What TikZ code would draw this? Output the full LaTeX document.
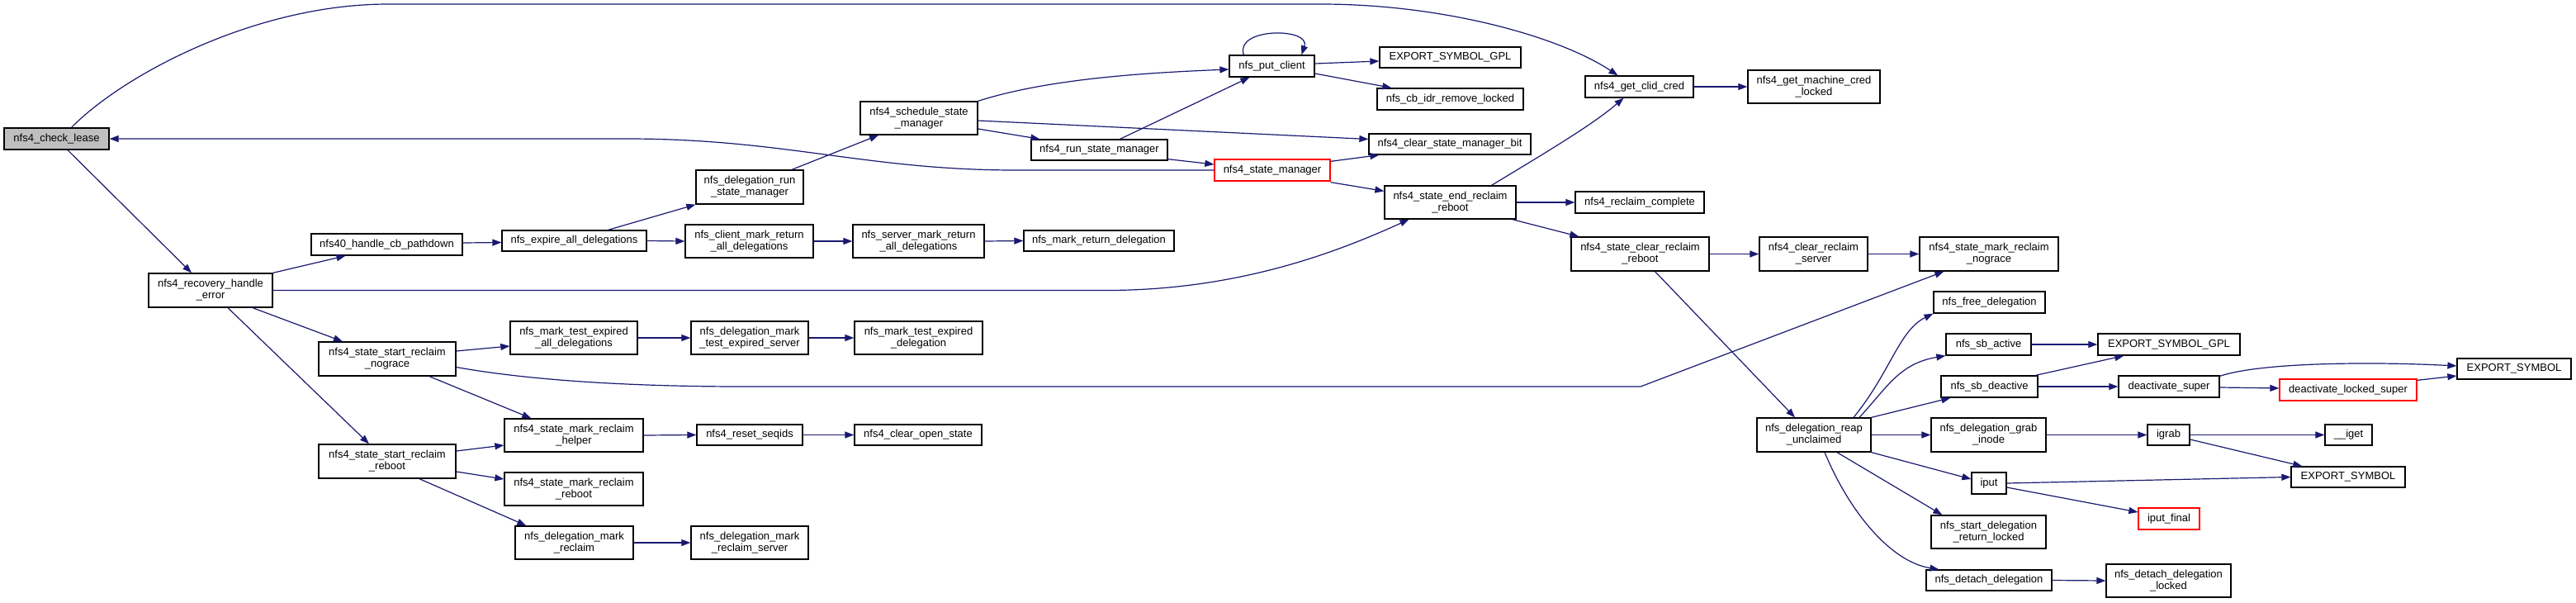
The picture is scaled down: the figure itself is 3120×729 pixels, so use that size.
\documentclass[tikz,border=0pt]{standalone}
\usepackage{fontspec}
\setmainfont{Liberation Sans}
\usetikzlibrary{arrows.meta,calc}
\definecolor{edgec}{HTML}{191970}
\definecolor{grayfill}{HTML}{BFBFBF}
\tikzset{
  fnbox/.style={draw=black,fill=white,line width=1.3pt,inner sep=0pt,align=center,
    font=\fontsize{13}{14}\selectfont},
  rootbox/.style={fill=grayfill},
  redbox/.style={draw=red},
  conn/.style={draw=edgec,line width=1.2pt,-{Triangle[length=11pt,width=8pt]}}
}
\newcommand\fn[7][]{\node[fnbox,#1,minimum width={#5-#3},minimum height={#6-#4}] (#2) at ({(#3+#5)/2},{(#4+#6)/2}) {#7};}
\begin{document}
\begin{tikzpicture}[x=1pt,y=-1pt]
\useasboundingbox[fill=white] (0,0) rectangle (3120,729);
% nodes
\fn[rootbox]{cl}{5}{155}{132}{181}{nfs4\_check\_lease}
\fn{rh}{180}{331}{330}{372}{nfs4\_recovery\_handle\\\_error}
\fn{cb}{377}{283}{560}{309}{nfs40\_handle\_cb\_pathdown}
\fn{ex}{608}{279}{783}{304}{nfs\_expire\_all\_delegations}
\fn{drs}{843}{206}{973}{247}{nfs\_delegation\_run\\\_state\_manager}
\fn{cmr}{830}{272}{985}{312}{nfs\_client\_mark\_return\\\_all\_delegations}
\fn{smr}{1033}{272}{1192}{312}{nfs\_server\_mark\_return\\\_all\_delegations}
\fn{mrd}{1240}{279}{1422}{304}{nfs\_mark\_return\_delegation}
\fn{ssm}{1042}{123}{1184}{163}{nfs4\_schedule\_state\\\_manager}
\fn{rsm}{1249}{169}{1414}{194}{nfs4\_run\_state\_manager}
\fn{pc}{1489}{67}{1592}{93}{nfs\_put\_client}
\fn[redbox]{sm}{1471}{193}{1611}{219}{nfs4\_state\_manager}
\fn{gplA}{1671}{57}{1842}{82}{EXPORT\_SYMBOL\_GPL}
\fn{cbidr}{1668}{107}{1845}{133}{nfs\_cb\_idr\_remove\_locked}
\fn{csmb}{1658}{162}{1854}{187}{nfs4\_clear\_state\_manager\_bit}
\fn{serr}{1677}{225}{1836}{265}{nfs4\_state\_end\_reclaim\\\_reboot}
\fn{gcc}{1920}{92}{2051}{118}{nfs4\_get\_clid\_cred}
\fn{gmc}{2117}{85}{2277}{125}{nfs4\_get\_machine\_cred\\\_locked}
\fn{rc}{1908}{232}{2064}{258}{nfs4\_reclaim\_complete}
\fn{scrr}{1903}{287}{2070}{328}{nfs4\_state\_clear\_reclaim\\\_reboot}
\fn{crs}{2131}{287}{2262}{328}{nfs4\_clear\_reclaim\\\_server}
\fn{smrn}{2325}{287}{2493}{328}{nfs4\_state\_mark\_reclaim\\\_nograce}
\fn{fd}{2342}{353}{2477}{379}{nfs\_free\_delegation}
\fn{sba}{2357}{404}{2460}{430}{nfs\_sb\_active}
\fn{gplB}{2541}{404}{2713}{430}{EXPORT\_SYMBOL\_GPL}
\fn{sbd}{2351}{455}{2468}{481}{nfs\_sb\_deactive}
\fn{ds}{2566}{455}{2688}{481}{deactivate\_super}
\fn[redbox]{dls}{2761}{459}{2927}{485}{deactivate\_locked\_super}
\fn{esA}{2976}{434}{3114}{459}{EXPORT\_SYMBOL}
\fn{reap}{2128}{506}{2266}{547}{nfs\_delegation\_reap\\\_unclaimed}
\fn{gi}{2339}{506}{2478}{547}{nfs\_delegation\_grab\\\_inode}
\fn{igrab}{2601}{514}{2652}{539}{igrab}
\fn{iget}{2816}{514}{2873}{539}{\_\_iget}
\fn{esB}{2775}{565}{2913}{590}{EXPORT\_SYMBOL}
\fn{iput}{2388}{572}{2430}{598}{iput}
\fn[redbox]{ipf}{2590}{615}{2664}{641}{iput\_final}
\fn{sdrl}{2339}{624}{2478}{664}{nfs\_start\_delegation\\\_return\_locked}
\fn{dd}{2333}{690}{2485}{715}{nfs\_detach\_delegation}
\fn{ddl}{2551}{683}{2702}{723}{nfs\_detach\_delegation\\\_locked}
\fn{srn}{386}{414}{552}{455}{nfs4\_state\_start\_reclaim\\\_nograce}
\fn{srr}{386}{538}{552}{579}{nfs4\_state\_start\_reclaim\\\_reboot}
\fn{mtea}{618}{389}{772}{429}{nfs\_mark\_test\_expired\\\_all\_delegations}
\fn{dmtes}{837}{389}{979}{429}{nfs\_delegation\_mark\\\_test\_expired\_server}
\fn{mted}{1035}{389}{1190}{429}{nfs\_mark\_test\_expired\\\_delegation}
\fn{smrh}{611}{507}{779}{547}{nfs4\_state\_mark\_reclaim\\\_helper}
\fn{rs}{844}{514}{972}{539}{nfs4\_reset\_seqids}
\fn{cos}{1035}{514}{1189}{539}{nfs4\_clear\_open\_state}
\fn{smrr}{611}{572}{779}{612}{nfs4\_state\_mark\_reclaim\\\_reboot}
\fn{dmr}{624}{637}{767}{677}{nfs\_delegation\_mark\\\_reclaim}
\fn{dmrs}{837}{637}{979}{677}{nfs\_delegation\_mark\\\_reclaim\_server}
% edges
\draw[conn] ($(cl.north)+(18,0)$) .. controls (150,90) and (310,5) .. (470,5) -- (1600,5) .. controls (1750,5) and (1890,45) .. ($(gcc.north)+(-26,0)$);
\draw[conn] (sm.west) -- (1230,206) .. controls (1050,206) and (950,168) .. (760,168) -- (cl.east);
\draw[conn] ($(cl.south)+(13.5,0)$) -- ($(rh.north)+(-23,0)$);
\draw[conn] (rh.north east) -- ($(cb.south)+(-50,0)$);
\draw[conn] (rh.east) -- (1340,351.5) .. controls (1500,351.5) and (1620,305) .. ($(serr.south)+(-50,0)$);
\draw[conn] ($(rh.south)+(51,0)$) -- ($(srn.north)+(-54,0)$);
\draw[conn] ($(rh.south)+(21,0)$) -- ($(srr.north)+(-22,0)$);
\draw[conn] ($(cb.east)+(0,-2)$) -- ($(ex.west)+(0,2)$);
\draw[conn] ($(ex.north)+(41,0)$) -- (drs.south west);
\draw[conn] (ex.east) -- (cmr.west);
\draw[conn] (cmr.east) -- (smr.west);
\draw[conn] (smr.east) -- (mrd.west);
\draw[conn] ($(drs.north)+(51,0)$) -- ($(ssm.south)+(-49,0)$);
\draw[conn] (ssm.north east) .. controls (1270,95) and (1390,88) .. ($(pc.west)+(0,4)$);
\draw[conn] ($(ssm.east)+(0,13)$) -- ($(rsm.north west)+(11,0)$);
\draw[conn] ($(ssm.east)+(0,3)$) -- ($(csmb.west)+(0,-6)$);
\draw[conn] ($(rsm.north)+(25,0)$) -- ($(pc.south west)+(25,0)$);
\draw[conn] ($(rsm.south east)+(0,-2)$) -- ($(sm.west)+(0,-7)$);
\draw[conn] ($(pc.north west)+(18,0)$) .. controls (1495,33) and (1588,33) .. ($(pc.north west)+(88,0)$);
\draw[conn] ($(pc.east)+(0,-3)$) -- ($(gplA.west)+(0,4.5)$);
\draw[conn] ($(pc.east)+(0,9)$) -- ($(cbidr.north west)+(18,0)$);
\draw[conn] ($(sm.north east)+(0,3)$) -- ($(csmb.south west)+(13,0)$);
\draw[conn] ($(sm.south east)+(0,1)$) -- ($(serr.north west)+(0,7)$);
\draw[conn] ($(serr.north)+(50,0)$) .. controls (1880,180) and (1930,150) .. ($(gcc.south)+(-19,0)$);
\draw[conn] (serr.east) -- (rc.west);
\draw[conn] ($(serr.south east)+(-5,0)$) -- ($(scrr.north west)+(10,0)$);
\draw[conn] (gcc.east) -- (gmc.west);
\draw[conn] (scrr.east) -- (crs.west);
\draw[conn] (crs.east) -- (smrn.west);
\draw[conn] ($(scrr.south)+(18,0)$) -- ($(reap.north)+(-23,0)$);
\draw[conn] ($(srn.east)+(0,10)$) .. controls (650,462) and (780,468) .. (900,468) -- (1987,468) -- ($(smrn.south west)+(30,0)$);
\draw[conn] ($(srn.east)+(0,-9.5)$) -- ($(mtea.west)+(0,10)$);
\draw[conn] ($(srn.south)+(51,0)$) -- ($(smrh.north west)+(33,0)$);
\draw[conn] ($(srr.east)+(0,-12.5)$) -- ($(smrh.west)+(0,12)$);
\draw[conn] ($(srr.east)+(0,12.5)$) -- ($(smrr.west)+(0,-12)$);
\draw[conn] ($(srr.south)+(39,0)$) -- ($(dmr.north west)+(14,0)$);
\draw[conn] (mtea.east) -- (dmtes.west);
\draw[conn] (dmtes.east) -- (mted.west);
\draw[conn] (smrh.east) -- (rs.west);
\draw[conn] (rs.east) -- (cos.west);
\draw[conn] (dmr.east) -- (dmrs.west);
\draw[conn] ($(reap.north)+(48,0)$) .. controls (2290,450) and (2300,400) .. (fd.south west);
\draw[conn] ($(reap.north)+(55,0)$) .. controls (2285,470) and (2300,440) .. (sba.south west);
\draw[conn] (reap.north east) -- ($(sbd.south west)+(12,0)$);
\draw[conn] (reap.east) -- (gi.west);
\draw[conn] (reap.south east) -- ($(iput.west)+(0,-5)$);
\draw[conn] ($(reap.south)+(28,0)$) -- ($(sdrl.north west)+(14,0)$);
\draw[conn] ($(reap.south)+(13,0)$) .. controls (2240,620) and (2290,680) .. ($(dd.north west)+(16,0)$);
\draw[conn] (sba.east) -- (gplB.west);
\draw[conn] ($(sbd.north east)+(-3,0)$) -- ($(gplB.south west)+(32,0)$);
\draw[conn] (sbd.east) -- (ds.west);
\draw[conn] ($(ds.north east)+(0,1)$) .. controls (2740,438) and (2880,438) .. ($(esA.west)+(0,-3.5)$);
\draw[conn] ($(ds.east)+(0,1)$) -- ($(dls.west)+(0,-2)$);
\draw[conn] ($(dls.north east)+(0,2)$) -- ($(esA.west)+(0,8.5)$);
\draw[conn] (gi.east) -- (igrab.west);
\draw[conn] (igrab.east) -- (iget.west);
\draw[conn] ($(igrab.east)+(0,5.5)$) -- ($(esB.north west)+(14,0)$);
\draw[conn] (iput.east) -- (esB.west);
\draw[conn] ($(iput.east)+(0,5)$) -- ($(ipf.west)+(0,-8)$);
\draw[conn] (dd.east) -- (ddl.west);
\end{tikzpicture}
\end{document}
